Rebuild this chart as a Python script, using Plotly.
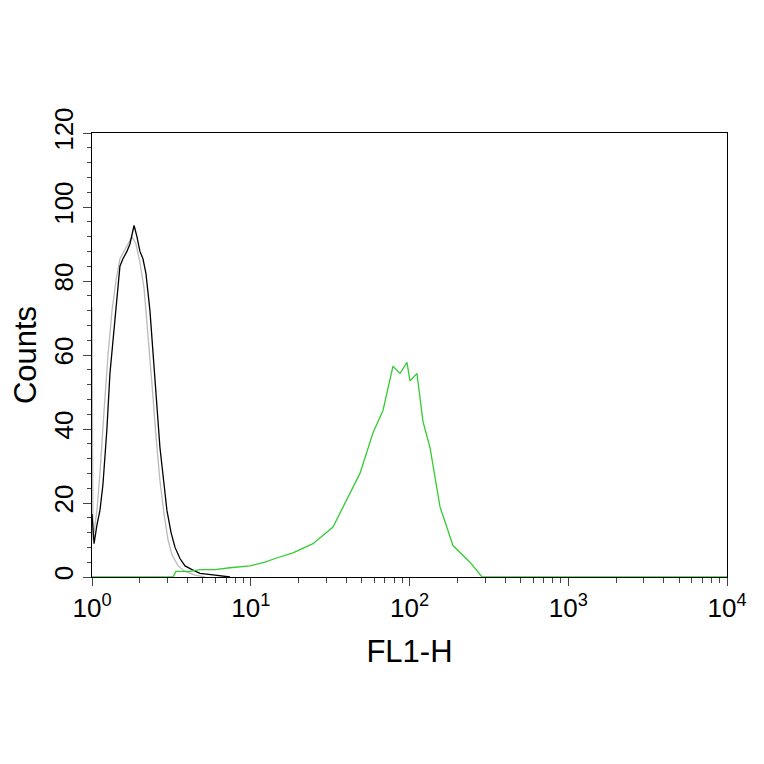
import plotly.graph_objects as go

# positions as log10(FL1-H)
black_log = [0,.013,.031,.050,.069,.094,.113,.132,.157,.176,.195,.220,.239,.265,.283,.302,.321,.340,.365,.384,.409,.428,.454,.472,.498,.523,.554,.586,.630,.680,.775,.869]
black_cnt = [17,9,14,18,25,40,55,64,75,84,86,88,90,95,92,88,86,82,72,60,45,35,25,18,12,8,5,3,2,1,0.5,0]
gray_log = [0,.006,.031,.05,.076,.101,.126,.151,.176,.202,.227,.252,.277,.302,.328,.353,.378,.403,.428,.454,.479,.504,.542,.586,.649,.712]
gray_cnt = [73,10,18,28,45,60,72,80,86,88,90,92,90,85,78,66,52,38,26,17,10,6,3,1.5,0.5,0]
green_log = [0,.510,.529,.617,.680,.775,.869,.995,1.090,1.153,1.266,1.392,1.518,1.606,1.688,1.770,1.833,1.896,1.940,1.984,2.003,2.047,2.085,2.129,2.192,2.274,2.381,2.457,4]
green_cnt = [0,0,1.5,1.5,2,2,2.5,3,4,5,6.5,9,13.5,21,28,39,45,57,55,58,53,55,42,35,19,8.5,4,0,0]
x_tickvals = [1,10,100,1000,10000]
x_ticktext = ["10<sup>0</sup>","10<sup>1</sup>","10<sup>2</sup>","10<sup>3</sup>","10<sup>4</sup>"]

fig = go.Figure()
for lg, c, col in [(gray_log, gray_cnt, "#bbbbbb"), (black_log, black_cnt, "black"), (green_log, green_cnt, "#33cc33")]:
    fig.add_trace(go.Scatter(x=[10**v for v in lg], y=c, mode="lines", line=dict(color=col, width=1.3), showlegend=False, cliponaxis=False))

font = dict(family="Liberation Sans, Arial", size=26, color="black")
fig.update_layout(width=764, height=764, paper_bgcolor="white", plot_bgcolor="white",
    margin=dict(l=84, r=45, t=125, b=195), font=font)
fig.update_xaxes(type="log", range=[0,4], tickvals=x_tickvals, ticktext=x_ticktext, ticks="outside",
    ticklen=8, showgrid=False, showline=True, linecolor="black", mirror=True, zeroline=False, automargin=False,
    minor=dict(ticks="outside", ticklen=5, dtick="D1", showgrid=False),
    title=dict(text="FL1-H", standoff=18))
fig.update_yaxes(range=[0,120], tickvals=[0,20,40,60,80,100,120], tickangle=-90, ticks="outside", ticklen=8,
    showgrid=False, showline=True, linecolor="black", mirror=True, zeroline=False, automargin=False,
    minor=dict(ticks="outside", ticklen=4, dtick=4, showgrid=False),
    title=dict(text="Counts", standoff=14))
fig.write_html("out.html")
